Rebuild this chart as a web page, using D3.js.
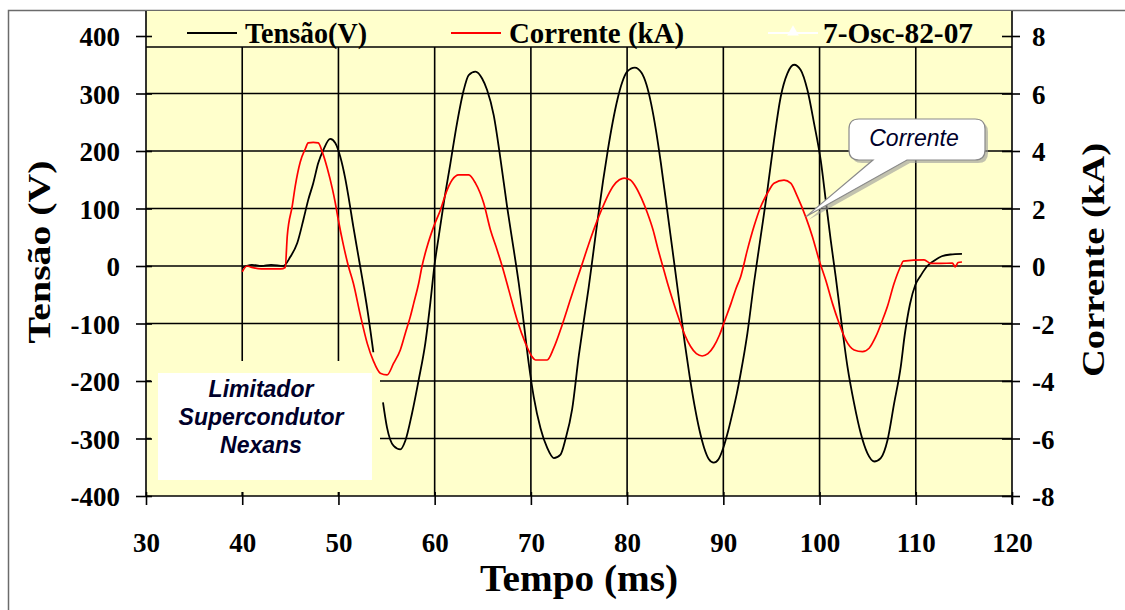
<!DOCTYPE html>
<html>
<head>
<meta charset="utf-8">
<script src="https://cdn.jsdelivr.net/npm/d3@7"></script>
<style>
  body { margin: 0; background: #ffffff; }
  svg { display: block; }
</style>
</head>
<body>
<div id="chart"></div>
<script>
// --- data ---
// tensao: [tempo (ms), tensao (V)]; null = trecho sem registro
const tensao = [
  [40, -3], [41, 2], [42, 0], [43, 2], [44.26, 0], [45, 16], [45.72, 40], [46.35, 80],
  [46.86, 115], [47.38, 144], [47.9, 179], [48.43, 202], [49.15, 221], [49.67, 214],
  [50.19, 190], [50.71, 152], [51.03, 122], [51.55, 68], [51.96, 28], [52.48, -22],
  [53, -75], [53.63, -150], [54.1, null], [54.63, -237], [55.05, -281], [55.74, -313],
  [56.43, -319], [56.95, -304], [57.65, -256], [58.34, -198], [59.03, -134], [59.55, -64],
  [59.97, 0], [60.42, 51], [60.94, 109], [61.64, 179], [62.33, 249], [63.02, 306],
  [63.54, 332], [64.24, 338], [64.93, 326], [65.45, 306], [66.14, 262], [66.84, 186],
  [67.53, 103], [68.22, 28], [68.74, -30], [69.26, -99], [69.78, -170], [70.3, -228],
  [71, -282], [71.69, -316], [72.38, -334], [73.08, -328], [73.6, -301], [74.29, -249],
  [74.98, -156], [75.5, -95], [76, -38], [76.5, 25], [77, 88], [77.5, 148], [78, 202],
  [78.5, 250], [79, 290], [79.5, 320], [80, 338], [80.8, 345], [81.5, 336], [82, 316],
  [82.5, 282], [83, 236], [83.5, 180], [84, 118], [84.5, 55], [85, -8], [85.5, -72],
  [86, -135], [86.5, -192], [87, -242], [87.5, -284], [88, -316], [88.5, -336], [89, -342],
  [89.5, -336], [90, -316], [90.5, -287], [91, -252], [91.4, -222], [91.8, -187],
  [92.5, -117], [93.18, -30], [93.88, 51], [94.58, 132], [95.27, 219], [95.96, 294],
  [96.66, 335], [97.35, 350], [98.04, 341], [98.74, 306], [99.43, 248], [100.12, 184],
  [100.64, 115], [101.16, 45], [101.68, -19], [102.2, -88], [102.9, -175], [103.59, -239],
  [104.28, -291], [104.98, -326], [105.67, -340], [106.36, -334], [107.06, -303],
  [107.75, -239], [108.44, -175], [108.85, -120], [109.4, -66], [109.95, -33], [110.5, -17],
  [111.2, 0], [111.9, 9], [112.7, 17], [113.6, 20], [114.8, 21],
]

// corrente: [tempo (ms), corrente (kA)]
const corrente = [
  [40, -0.2], [40.5, 0], [41, -0.05], [42, -0.1], [43, -0.1], [44, -0.1], [44.47, -0.05],
  [44.68, 1.04], [45.2, 2.09], [45.51, 2.78], [46.03, 3.62], [46.55, 4.07], [46.86, 4.28],
  [47.38, 4.3], [47.9, 4.28], [48.32, 3.97], [48.84, 3.4], [49.36, 2.7], [49.67, 2.2],
  [49.99, 1.6], [50.5, 0.75], [51.03, 0], [51.55, -0.6], [52.27, -1.7], [53, -2.7],
  [53.63, -3.3], [54.35, -3.73], [55.05, -3.79], [55.74, -3.38], [56.43, -2.92],
  [56.95, -2.34], [57.47, -1.76], [57.82, -1.3], [58.34, -0.6], [58.69, 0], [59.21, 0.67],
  [59.9, 1.37], [60.6, 1.95], [61.29, 2.64], [61.81, 2.99], [62.5, 3.17], [63.54, 3.17],
  [64.24, 2.88], [65.1, 2.18], [65.8, 1.25], [66.49, 0.56], [67.01, 0], [67.7, -0.83],
  [68.57, -1.88], [69.44, -2.69], [70.13, -3.16], [70.48, -3.27], [71.69, -3.27],
  [72.38, -2.85], [73.25, -2.05], [74.12, -1.15], [74.64, -0.62], [75.16, -0.1],
  [75.7, 0.45], [76.2, 0.95], [76.8, 1.5], [77.4, 2.0], [78, 2.45], [78.6, 2.8], [79.2, 3.0],
  [79.7, 3.06], [80.3, 3.0], [80.9, 2.75], [81.5, 2.35], [82.1, 1.85], [82.7, 1.25],
  [83.2, 0.6], [83.7, 0], [84.2, -0.6], [84.8, -1.25], [85.4, -1.85], [86, -2.4],
  [86.6, -2.8], [87.2, -3.05], [87.8, -3.13], [88.4, -3.05], [89, -2.8], [89.6, -2.4],
  [90.2, -1.85], [90.8, -1.3], [91.3, -0.8], [91.8, -0.37], [92.5, 0.56], [93.18, 1.37],
  [93.88, 2.06], [94.58, 2.53], [95.27, 2.88], [96.31, 2.99], [97, 2.88], [97.7, 2.41],
  [98.56, 1.71], [99.26, 1.02], [99.95, 0.21], [100.64, -0.49], [101.34, -1.3],
  [102.03, -1.99], [102.72, -2.57], [103.59, -2.92], [104.46, -2.98], [105.15, -2.86],
  [105.84, -2.46], [106.54, -1.88], [107.06, -1.4], [107.75, -0.6], [108.44, 0],
  [108.7, 0.17], [110.86, 0.21], [111.56, 0.09], [112.6, 0.09], [113.8, 0.1],
  [114.1, -0.03], [114.4, 0.12], [114.8, 0.14],
]

const xTicks = [30, 40, 50, 60, 70, 80, 90, 100, 110, 120]
const yLeftTicks = [-400, -300, -200, -100, 0, 100, 200, 300, 400]
const yRightTicks = [-8, -6, -4, -2, 0, 2, 4, 6, 8]
const legendLabels = ['Tensão(V)', 'Corrente (kA)', '7-Osc-82-07']
const boxLines = ['Limitador', 'Supercondutor', 'Nexans']
const calloutLabel = 'Corrente'

// --- layout ---
const W = 1125
const H = 610
const PLOT_L = 146
const PLOT_R = 1012
const PLOT_T = 11
const PLOT_B = 496
const LEGEND_B = 47
const BG = '#ffffcc'
const SERIF = "'Liberation Serif', 'Times New Roman', serif"
const SANS = "'Liberation Sans', Arial, sans-serif"

const x = d3.scaleLinear().domain([30, 120]).range([PLOT_L, PLOT_R])
const yL = d3.scaleLinear().domain([-400, 400]).range([PLOT_B, 36])
const yR = d3.scaleLinear().domain([-8, 8]).range([PLOT_B, 36])

const svg = d3.select('#chart').append('svg').attr('width', W).attr('height', H)

svg.append('rect').attr('width', W).attr('height', H).attr('fill', '#ffffff')

// outer frame (top + left visible)
svg.append('path')
  .attr('d', `M8.5,${H} V10.5 H${W}`)
  .attr('fill', 'none')
  .attr('stroke', '#6b6b6b')
  .attr('stroke-width', 1.5)

// plot background
svg.append('rect')
  .attr('x', PLOT_L).attr('y', PLOT_T)
  .attr('width', PLOT_R - PLOT_L).attr('height', PLOT_B - PLOT_T)
  .attr('fill', BG)

// grid
const grid = svg.append('g').attr('stroke', '#000').attr('stroke-width', 1.6)
grid.selectAll('line.v')
  .data(xTicks.slice(1, -1))
  .join('line')
  .attr('x1', (d) => x(d)).attr('x2', (d) => x(d))
  .attr('y1', PLOT_T).attr('y2', PLOT_B)
grid.selectAll('line.h')
  .data(yLeftTicks.slice(1, -1))
  .join('line')
  .attr('x1', PLOT_L).attr('x2', PLOT_R)
  .attr('y1', (d) => yL(d)).attr('y2', (d) => yL(d))

// text box (covers grid below it, with a margin in plot colour)
svg.append('rect').attr('x', 151).attr('y', 361).attr('width', 229).attr('height', 131).attr('fill', BG)
svg.append('rect').attr('x', 158).attr('y', 373).attr('width', 214).attr('height', 107).attr('fill', '#ffffff')

// legend box
svg.append('rect')
  .attr('x', PLOT_L).attr('y', PLOT_T)
  .attr('width', PLOT_R - PLOT_L).attr('height', LEGEND_B - PLOT_T)
  .attr('fill', BG)
svg.append('line')
  .attr('x1', PLOT_L).attr('x2', PLOT_R)
  .attr('y1', LEGEND_B).attr('y2', LEGEND_B)
  .attr('stroke', '#000').attr('stroke-width', 1.6)

// curves
const lineV = d3.line()
  .defined((d) => d[1] != null)
  .x((d) => x(d[0]))
  .y((d) => yL(d[1]))
  .curve(d3.curveMonotoneX)

const lineI = d3.line()
  .x((d) => x(d[0]))
  .y((d) => yR(d[1]))
  .curve(d3.curveMonotoneX)

svg.append('path')
  .attr('d', lineV(tensao))
  .attr('fill', 'none')
  .attr('stroke', '#000000')
  .attr('stroke-width', 1.8)

svg.append('path')
  .attr('d', lineI(corrente))
  .attr('fill', 'none')
  .attr('stroke', '#ff0000')
  .attr('stroke-width', 1.7)

// axes (plain hyphen for negatives, as in the original)
const plain = (d) => String(d)
const styleTicks = (g) => {
  g.select('.domain').remove()
  g.selectAll('line').attr('stroke', '#000').attr('stroke-width', 1.6)
  g.selectAll('text')
    .attr('fill', '#000')
    .attr('font-family', SERIF)
    .attr('font-weight', 'bold')
    .attr('font-size', 27)
}

const left = svg.append('g').attr('transform', `translate(${PLOT_L},0)`)
  .call(d3.axisLeft(yL).tickValues(yLeftTicks).tickFormat(plain).tickSize(10).tickPadding(16).tickSizeOuter(0))
  .call(styleTicks)
left.selectAll('text').attr('dy', '0.36em')
svg.append('g').attr('transform', `translate(${PLOT_L},0)`)
  .call(d3.axisRight(yL).tickValues(yLeftTicks).tickSize(6).tickFormat('').tickSizeOuter(0))
  .call(styleTicks)

svg.append('g').attr('transform', `translate(${PLOT_R},0)`)
  .call(d3.axisRight(yR).tickValues(yRightTicks).tickFormat(plain).tickSize(8).tickPadding(12).tickSizeOuter(0))
  .call(styleTicks)
  .selectAll('text').attr('dy', '0.36em')
svg.append('g').attr('transform', `translate(${PLOT_R},0)`)
  .call(d3.axisLeft(yR).tickValues(yRightTicks).tickSize(10).tickFormat('').tickSizeOuter(0))
  .call(styleTicks)

const bottom = svg.append('g').attr('transform', `translate(0,${PLOT_B})`)
  .call(d3.axisBottom(x).tickValues(xTicks).tickFormat(plain).tickSize(9).tickSizeOuter(0))
  .call(styleTicks)
bottom.selectAll('text').attr('y', 56).attr('dy', 0)
svg.append('g').attr('transform', `translate(0,${PLOT_B})`)
  .call(d3.axisTop(x).tickValues(xTicks).tickSize(4).tickFormat('').tickSizeOuter(0))
  .call(styleTicks)

// axis lines
const frame = svg.append('g').attr('stroke', '#000').attr('stroke-width', 1.6)
frame.append('line').attr('x1', PLOT_L).attr('x2', PLOT_L).attr('y1', PLOT_T).attr('y2', PLOT_B)
frame.append('line').attr('x1', PLOT_R).attr('x2', PLOT_R).attr('y1', PLOT_T).attr('y2', PLOT_B + 8)
frame.append('line').attr('x1', PLOT_L).attr('x2', PLOT_R).attr('y1', PLOT_B).attr('y2', PLOT_B)

// axis titles
svg.append('text')
  .attr('transform', `translate(50,252) rotate(-90)`)
  .attr('text-anchor', 'middle')
  .attr('font-family', SERIF).attr('font-weight', 'bold').attr('font-size', 32)
  .attr('textLength', 183).attr('lengthAdjust', 'spacingAndGlyphs')
  .text('Tensão (V)')

svg.append('text')
  .attr('transform', `translate(1104,260) rotate(-90)`)
  .attr('text-anchor', 'middle')
  .attr('font-family', SERIF).attr('font-weight', 'bold').attr('font-size', 32)
  .attr('textLength', 234).attr('lengthAdjust', 'spacingAndGlyphs')
  .text('Corrente (kA)')

svg.append('text')
  .attr('x', 579).attr('y', 591)
  .attr('text-anchor', 'middle')
  .attr('font-family', SERIF).attr('font-weight', 'bold').attr('font-size', 38)
  .attr('textLength', 198).attr('lengthAdjust', 'spacingAndGlyphs')
  .text('Tempo (ms)')

// legend
const legendItems = [
  { label: legendLabels[0], color: '#000000', x0: 187, tx: 245, tw: 122 },
  { label: legendLabels[1], color: '#ff0000', x0: 451, tx: 509, tw: 175 },
  { label: legendLabels[2], color: '#ffffff', x0: 768, tx: 823, tw: 150 },
]
const leg = svg.append('g')
legendItems.forEach((d, i) => {
  leg.append('line')
    .attr('x1', d.x0).attr('x2', d.x0 + 50)
    .attr('y1', 33).attr('y2', 33)
    .attr('stroke', d.color).attr('stroke-width', 2)
  if (i === 2) {
    leg.append('path')
      .attr('d', d3.symbol(d3.symbolTriangle, 60)())
      .attr('transform', `translate(${d.x0 + 25},32)`)
      .attr('fill', '#ffffff')
  }
  leg.append('text')
    .attr('x', d.tx).attr('y', 43)
    .attr('font-family', SERIF).attr('font-weight', 'bold').attr('font-size', 29)
    .attr('textLength', d.tw).attr('lengthAdjust', 'spacingAndGlyphs')
    .text(d.label)
})

// text box label
svg.append('g')
  .selectAll('text')
  .data(boxLines)
  .join('text')
  .attr('x', 261)
  .attr('y', (d, i) => 397 + i * 28)
  .attr('text-anchor', 'middle')
  .attr('fill', '#00002a')
  .attr('font-family', SANS)
  .attr('font-style', 'italic')
  .attr('font-weight', 'bold')
  .attr('font-size', 23)
  .text((d) => d)

// callout
const tip = [x(98.56), yR(1.71)]
const calloutPath = `M859,119 H975 Q985,119 985,129 V150 Q985,160 975,160 H907 L${tip[0]},${tip[1]} L873,160 H859 Q849,160 849,150 V129 Q849,119 859,119 Z`
svg.append('path')
  .attr('d', calloutPath)
  .attr('transform', 'translate(3,3)')
  .attr('fill', '#9a9a9a')
  .attr('opacity', 0.6)
svg.append('path')
  .attr('d', calloutPath)
  .attr('fill', '#ffffff')
  .attr('stroke', '#8a8a8a')
  .attr('stroke-width', 1.2)
svg.append('text')
  .attr('x', 914).attr('y', 146)
  .attr('text-anchor', 'middle')
  .attr('fill', '#00002a')
  .attr('font-family', SANS)
  .attr('font-style', 'italic')
  .attr('font-size', 23)
  .text(calloutLabel)
</script>
</body>
</html>
